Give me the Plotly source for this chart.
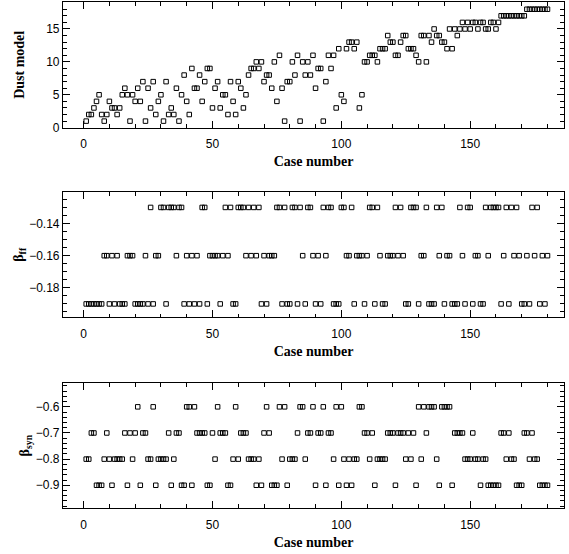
import plotly.graph_objects as go

case_number = list(range(1, 181))

dust_model = [1,2,2,3,4,5,2,1,2,4, 3,3,2,3,5,6,5,1,5,4, 6,4,7,1,6,3,7,2,4,5,
              1,7,2,3,2,6,1,5,8,4, 2,9,6,6,8,4,7,9,9,3, 6,7,3,5,5,2,7,4,2,7,
              6,3,5,8,9,9,10,9,10,7, 8,8,6,10,4,11,6,1,7,7, 10,8,11,1,10,8,10,8,11,6,
              9,9,1,7,11,9,11,3,12,5, 4,12,13,13,12,13,3,5,10,10, 11,11,11,10,12,12,12,14,13,13,
              11,11,13,14,14,12,12,12,11,10, 14,14,10,14,13,15,14,14,13,13, 12,15,12,15,14,15,16,15,16,15,
              16,16,15,16,16,15,15,16,16,15, 16,17,17,17,17,17,17,17,17,17, 17,18,18,18,18,18,18,18,18,18]

beta_ff = [-.19,-.19,-.19,-.19,-.19,-.19,-.19,-.16,-.16,-.19,
           -.16,-.19,-.16,-.19,-.19,-.19,-.16,-.16,-.16,-.19,
           -.19,-.19,-.19,-.16,-.19,-.13,-.19,-.16,-.16,-.13,
           -.13,-.19,-.13,-.13,-.13,-.16,-.13,-.13,-.19,-.16,
           -.19,-.16,-.19,-.16,-.19,-.13,-.13,-.19,-.16,-.16,
           -.16,-.16,-.19,-.16,-.13,-.16,-.13,-.19,-.19,-.13,
           -.13,-.13,-.16,-.13,-.16,-.13,-.16,-.13,-.19,-.16,
           -.19,-.16,-.16,-.16,-.13,-.13,-.19,-.13,-.19,-.19,
           -.13,-.13,-.19,-.13,-.16,-.19,-.13,-.13,-.16,-.19,
           -.16,-.19,-.13,-.16,-.13,-.13,-.19,-.19,-.19,-.13,
           -.13,-.16,-.16,-.13,-.19,-.16,-.16,-.16,-.19,-.16,
           -.13,-.13,-.19,-.13,-.16,-.19,-.19,-.16,-.16,-.16,
           -.13,-.16,-.13,-.16,-.19,-.19,-.13,-.13,-.13,-.19,
           -.16,-.16,-.13,-.19,-.19,-.19,-.13,-.16,-.13,-.19,
           -.16,-.16,-.19,-.19,-.19,-.13,-.16,-.19,-.13,-.13,
           -.19,-.16,-.16,-.19,-.19,-.13,-.16,-.13,-.13,-.13,
           -.13,-.19,-.16,-.13,-.19,-.13,-.16,-.13,-.16,-.19,
           -.19,-.16,-.19,-.13,-.16,-.13,-.19,-.16,-.19,-.16]

beta_syn = [-.8,-.8,-.7,-.7,-.9,-.9,-.9,-.8,-.7,-.8,
            -.9,-.8,-.8,-.8,-.8,-.7,-.9,-.7,-.8,-.7,
            -.6,-.9,-.7,-.7,-.8,-.8,-.6,-.9,-.8,-.8,
            -.8,-.8,-.7,-.9,-.8,-.7,-.7,-.9,-.9,-.6,
            -.6,-.9,-.6,-.7,-.7,-.7,-.7,-.9,-.9,-.7,
            -.8,-.6,-.7,-.7,-.7,-.9,-.9,-.8,-.6,-.8,
            -.7,-.7,-.7,-.8,-.8,-.8,-.9,-.8,-.9,-.7,
            -.6,-.7,-.9,-.9,-.9,-.6,-.8,-.6,-.9,-.8,
            -.8,-.8,-.7,-.6,-.6,-.8,-.7,-.7,-.6,-.9,
            -.7,-.7,-.6,-.9,-.7,-.7,-.8,-.6,-.9,-.6,
            -.8,-.9,-.8,-.9,-.8,-.8,-.6,-.6,-.7,-.7,
            -.8,-.7,-.9,-.8,-.8,-.8,-.8,-.7,-.7,-.7,
            -.9,-.7,-.7,-.7,-.8,-.7,-.8,-.7,-.9,-.6,
            -.8,-.6,-.7,-.6,-.6,-.6,-.8,-.9,-.6,-.6,
            -.6,-.6,-.9,-.7,-.7,-.7,-.7,-.8,-.8,-.8,
            -.7,-.8,-.8,-.9,-.8,-.8,-.9,-.9,-.9,-.9,
            -.9,-.7,-.7,-.8,-.7,-.8,-.8,-.9,-.9,-.9,
            -.7,-.7,-.8,-.7,-.8,-.8,-.9,-.9,-.9,-.9]

x_title = "Case number"
y_titles = ["Dust model", "β<sub>ff</sub>", "β<sub>syn</sub>"]

TICKFONT = dict(family="Liberation Sans", size=12, color="black")
TITLEFONT = dict(family="Liberation Serif", size=14, color="black", weight="bold")

marker = dict(symbol="square-open", size=4.5, color="black", line=dict(width=1, color="black"))

fig = go.Figure()
for i, ys in enumerate([dust_model, beta_ff, beta_syn]):
    sfx = "" if i == 0 else str(i + 1)
    fig.add_trace(go.Scatter(x=case_number, y=ys, mode="markers", marker=marker,
                             xaxis="x" + sfx, yaxis="y" + sfx, showlegend=False,
                             cliponaxis=False))

def xaxis(domain_anchor):
    return dict(range=[-8, 186.4], anchor=domain_anchor, tickmode="linear", tick0=0, dtick=50,
                ticks="inside", ticklen=7, tickwidth=1, tickcolor="black",
                minor=dict(dtick=10, tick0=0, ticks="inside", ticklen=3.5, tickcolor="black", tickwidth=1),
                mirror="allticks", showline=True, linecolor="black", linewidth=1.2,
                showgrid=False, zeroline=False, tickfont=TICKFONT, ticklabelstandoff=5,
                title=dict(text=x_title, font=TITLEFONT, standoff=6))

def yaxis(domain, rng, dtick, minor, title, standoff, tickvals=None, fmt=None):
    d = dict(domain=domain, range=rng, tickmode="linear", tick0=0, dtick=dtick,
             ticks="inside", ticklen=7, tickwidth=1, tickcolor="black",
             minor=dict(dtick=minor, tick0=0, ticks="inside", ticklen=3.5, tickcolor="black", tickwidth=1),
             mirror="allticks", showline=True, linecolor="black", linewidth=1.2,
             showgrid=False, zeroline=False, tickfont=TICKFONT,
             title=dict(text=title, font=TITLEFONT, standoff=standoff))
    if tickvals is not None:
        d.update(tickmode="array", tickvals=tickvals)
    if fmt:
        d["tickformat"] = fmt
    return d

fig.update_layout(
    width=569, height=554,
    margin=dict(l=63, r=5, t=2, b=46),
    paper_bgcolor="white", plot_bgcolor="white",
    xaxis=xaxis("y"), xaxis2=xaxis("y2"), xaxis3=xaxis("y3"),
    yaxis=yaxis([0.7516, 1.0], [0, 19.1], 5, 1, y_titles[0], 18),
    yaxis2=yaxis([0.3769, 0.6239], [-0.1983, -0.1206], 0.02, 0.005, y_titles[1], 2,
                 tickvals=[-0.18, -0.16, -0.14], fmt=".2f"),
    yaxis3=yaxis([0.0, 0.2464], [-0.987, -0.510], 0.1, 0.02, y_titles[2], 2,
                 tickvals=[-0.9, -0.8, -0.7, -0.6], fmt=".1f"),
)

fig.write_html("out.html")
